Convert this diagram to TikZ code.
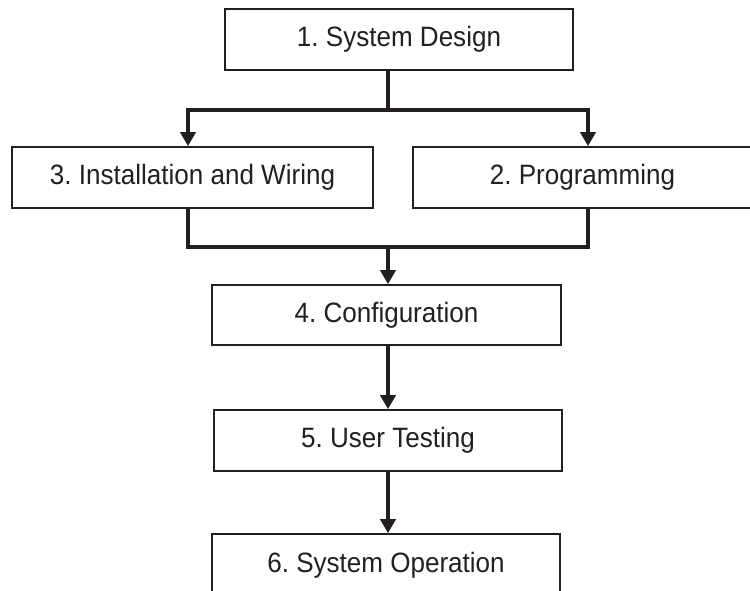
\documentclass[tikz,border=0pt]{standalone}
\usepackage{fontspec}
\setmainfont{Liberation Sans}[FakeStretch=0.93]
\usetikzlibrary{arrows.meta}
\definecolor{ink}{HTML}{231F20}
\begin{document}
\frenchspacing
\begin{tikzpicture}[x=1pt,y=-1pt,
  stepbox/.style={draw=ink,line width=1.6pt,rectangle,inner sep=0pt,
    minimum height=61pt,text=ink,font=\fontsize{28}{32}\selectfont},
  conn/.style={draw=ink,line width=3.6pt},
  arr/.style={conn,-{Triangle[length=14pt,width=15pt]}}]
\useasboundingbox (0,0) rectangle (750,590);
\clip (0,0) rectangle (750,590);
\node[stepbox,minimum width=348pt] (b1) at (399,39.5) {1. System Design};
\node[stepbox,minimum width=361pt] (b3) at (192.5,177.5) {3. Installation and Wiring};
\node[stepbox,minimum width=339pt] (b2) at (582.5,177.5) {2. Programming};
\node[stepbox,minimum width=349pt,minimum height=60pt] (b4) at (386.5,315) {4. Configuration};
\node[stepbox,minimum width=348pt] (b5) at (388,440.5) {5. User Testing};
\node[stepbox,minimum width=348pt,minimum height=62pt] (b6) at (386,565) {6. System Operation};
\coordinate (j1) at (388,110);
\coordinate (jL) at (188,110);
\coordinate (jR) at (588,110);
\coordinate (m1) at (388,247);
\draw[conn] (j1 |- b1.south) -- (j1);
\draw[arr] (j1) -| (jL |- b3.north);
\draw[arr] (j1) -| (jR |- b2.north);
\draw[conn] (jL |- b3.south) |- (m1) -| (jR |- b2.south);
\draw[arr] (m1) -- (m1 |- b4.north);
\draw[arr] (m1 |- b4.south) -- (m1 |- b5.north);
\draw[arr] (m1 |- b5.south) -- (m1 |- b6.north);
\end{tikzpicture}
\end{document}
